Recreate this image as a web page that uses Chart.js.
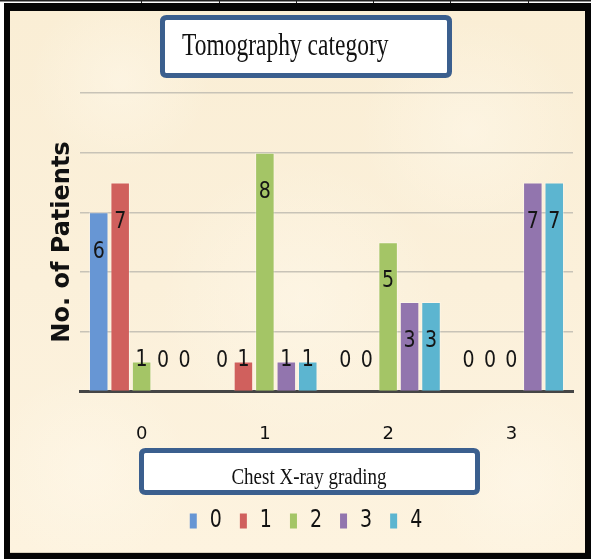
<!DOCTYPE html>
<html>
<head>
<meta charset="utf-8">
<script src="https://cdn.jsdelivr.net/npm/chart.js@4.4.0/dist/chart.umd.min.js"></script>
<style>
  html, body { margin: 0; padding: 0; background: #ffffff; }
  canvas { display: block; }
</style>
</head>
<body>
<canvas id="chart" width="591" height="559"></canvas>
<script>
// Chest X-ray grading (x categories) vs tomography category (series)
const categories = ['0', '1', '2', '3'];
const seriesNames = ['0', '1', '2', '3', '4'];
const tomography0 = [6, 0, 0, 0];
const tomography1 = [7, 1, 0, 0];
const tomography2 = [1, 8, 5, 0];
const tomography3 = [0, 1, 3, 7];
const tomography4 = [0, 1, 3, 7];
const yTickValues = [0, 2, 4, 6, 8, 10];

const chartTitle = 'Tomography category';
const xTitle = 'Chest X-ray grading';
const yTitle = 'No. of Patients';

const seriesValues = [tomography0, tomography1, tomography2, tomography3, tomography4];
const fillColors = ['#6796D4', '#D0605D', '#A4C566', '#9275AE', '#5CB5D0'];

function roundRectPath(ctx, x, y, w, h, r) {
  ctx.beginPath();
  ctx.moveTo(x + r, y);
  ctx.lineTo(x + w - r, y);
  ctx.quadraticCurveTo(x + w, y, x + w, y + r);
  ctx.lineTo(x + w, y + h - r);
  ctx.quadraticCurveTo(x + w, y + h, x + w - r, y + h);
  ctx.lineTo(x + r, y + h);
  ctx.quadraticCurveTo(x, y + h, x, y + h - r);
  ctx.lineTo(x, y + r);
  ctx.quadraticCurveTo(x, y, x + r, y);
  ctx.closePath();
}

// text drawn slightly tall and narrow, like the rest of the figure
function tallText(ctx, text, x, y, font, sy, align, baseline, color) {
  ctx.save();
  ctx.font = font;
  ctx.fillStyle = color;
  ctx.textAlign = align;
  ctx.textBaseline = baseline;
  ctx.translate(x, y);
  ctx.scale(1, sy);
  ctx.fillText(text, 0, 0);
  ctx.restore();
}

function boxedLabel(ctx, x, y, w, h) {
  ctx.save();
  roundRectPath(ctx, x, y, w, h, 4);
  ctx.fillStyle = '#ffffff';
  ctx.fill();
  ctx.lineWidth = 5;
  ctx.strokeStyle = '#3B5F8E';
  ctx.stroke();
  ctx.restore();
}

const framePlugin = {
  id: 'frame',
  beforeDraw(chart) {
    const ctx = chart.ctx;
    const W = chart.width, H = chart.height;
    ctx.save();
    ctx.fillStyle = '#ffffff';
    ctx.fillRect(0, 0, W, H);
    // thin ruled strip along the top
    ctx.fillStyle = '#222222';
    ctx.fillRect(0, 0, W, 1.5);
    [141, 219, 296, 373, 450, 528].forEach(x => ctx.fillRect(x, 0, 1, 4));
    // black frame
    ctx.fillStyle = '#050505';
    ctx.fillRect(4, 3, W - 4, H - 3);
    // parchment panel
    const g = ctx.createLinearGradient(0, 11, 0, 553);
    g.addColorStop(0, '#FAEED5');
    g.addColorStop(0.5, '#FBF0DA');
    g.addColorStop(1, '#FDF3DF');
    ctx.fillStyle = g;
    ctx.fillRect(10, 11, 575, 542);
    // soft mottling
    const spots = [[120, 80, 90], [470, 130, 110], [300, 300, 140], [90, 470, 100], [520, 480, 90]];
    spots.forEach(([sx, sy, r]) => {
      const rg = ctx.createRadialGradient(sx, sy, 0, sx, sy, r);
      rg.addColorStop(0, 'rgba(255,250,238,0.45)');
      rg.addColorStop(1, 'rgba(255,250,238,0)');
      ctx.fillStyle = rg;
      ctx.fillRect(10, 11, 575, 542);
    });
    ctx.fillStyle = 'rgba(150,140,120,0.35)';
    ctx.fillRect(10, 552, 575, 1);
    ctx.restore();

    // chart title box
    boxedLabel(ctx, 162.5, 17.5, 287, 58);
    tallText(ctx, chartTitle, 182, 55, '23.5px "Liberation Serif"', 1.33, 'left', 'alphabetic', '#111111');
  },
  afterDraw(chart) {
    const ctx = chart.ctx;
    // x-axis title box
    boxedLabel(ctx, 141.5, 450.5, 336, 42);
    tallText(ctx, xTitle, 309, 484, '19px "Liberation Serif"', 1.25, 'center', 'alphabetic', '#111111');

    // y-axis title
    ctx.save();
    ctx.translate(63, 242);
    ctx.rotate(-Math.PI / 2);
    ctx.font = 'bold 24px "DejaVu Sans"';
    ctx.fillStyle = '#111111';
    ctx.textAlign = 'center';
    ctx.textBaseline = 'middle';
    ctx.fillText(yTitle, 0, 0);
    ctx.restore();

    // legend
    const font = '19px "DejaVu Sans"';
    ctx.save();
    ctx.font = font;
    const items = chart.data.datasets.map(ds => ({ label: ds.label, color: ds.backgroundColor, tw: ctx.measureText(ds.label).width }));
    ctx.restore();
    const sq = 7, gapAfterSq = 13, itemGap = 18;
    const total = items.reduce((s, it) => s + sq + gapAfterSq + it.tw, 0) + itemGap * (items.length - 1);
    let x = 306 - total / 2;
    const cy = 521;
    items.forEach(it => {
      ctx.fillStyle = it.color;
      ctx.fillRect(x, cy - 7.5, sq, 15);
      tallText(ctx, it.label, x + sq + gapAfterSq, cy, font, 1.3, 'left', 'middle', '#111111');
      x += sq + gapAfterSq + it.tw + itemGap;
    });
  }
};

const valueLabelPlugin = {
  id: 'valueLabels',
  afterDatasetsDraw(chart) {
    const ctx = chart.ctx;
    chart.data.datasets.forEach((ds, i) => {
      const meta = chart.getDatasetMeta(i);
      meta.data.forEach((bar, j) => {
        const v = ds.data[j];
        const y = Math.min(bar.y + 39, bar.base - 31);
        tallText(ctx, String(v), bar.x, y, '19px "DejaVu Sans"', 1.25, 'center', 'middle', '#151515');
      });
    });
  }
};

new Chart(document.getElementById('chart'), {
  type: 'bar',
  data: {
    labels: categories,
    datasets: seriesNames.map((name, i) => ({
      label: name,
      data: seriesValues[i],
      backgroundColor: fillColors[i],
      borderColor: 'rgba(255,255,255,0.35)',
      borderWidth: 1,
      categoryPercentage: 0.87,
      barPercentage: 0.91
    }))
  },
  options: {
    responsive: false,
    maintainAspectRatio: false,
    animation: false,
    devicePixelRatio: 1,
    layout: { padding: { left: 80, right: 18, top: 93, bottom: 82 } },
    plugins: {
      legend: { display: false },
      title: { display: false },
      tooltip: { enabled: false }
    },
    scales: {
      x: {
        z: 1,
        grid: { display: false, drawTicks: false },
        border: { display: true, color: '#454545', width: 3 },
        ticks: {
          padding: 32,
          color: '#111111',
          font: { family: 'DejaVu Sans', size: 18 }
        }
      },
      y: {
        min: 0,
        max: 10,
        afterBuildTicks(scale) { scale.ticks = yTickValues.map(v => ({ value: v })); },
        ticks: { display: false },
        grid: { color: '#C8C3B7', lineWidth: 1.5, drawTicks: false },
        border: { display: false }
      }
    }
  },
  plugins: [framePlugin, valueLabelPlugin]
});
</script>
</body>
</html>
